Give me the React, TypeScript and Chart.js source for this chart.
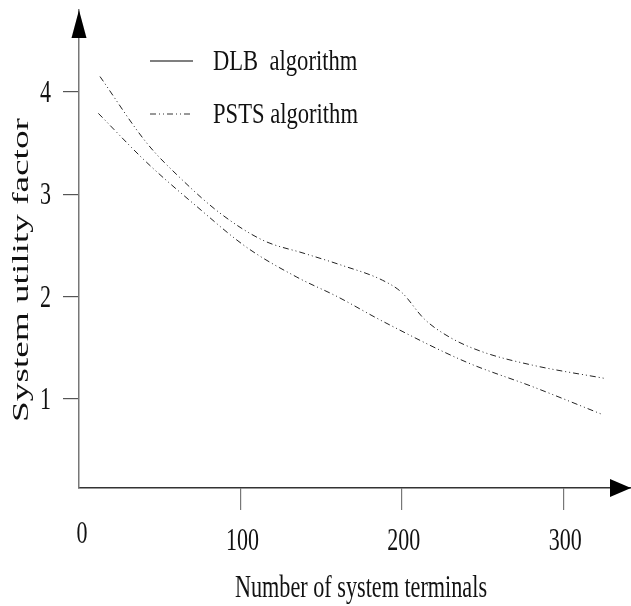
import React, { useEffect, useRef } from "react";
import { Chart, registerables } from "chart.js";

Chart.register(...registerables);

// Series values
const psts_x = [13, 42, 62, 87, 114, 140, 162, 188, 200, 214, 230, 250, 281, 326];
const psts_y = [4.15, 3.5, 3.17, 2.82, 2.55, 2.42, 2.31, 2.16, 2.04, 1.78, 1.6, 1.46, 1.33, 1.2];
const dlb_x = [12, 42, 73, 104, 135, 160, 188, 240, 281, 324];
const dlb_y = [3.79, 3.31, 2.88, 2.48, 2.19, 2.0, 1.76, 1.36, 1.12, 0.85];

const seriesLabels = ["DLB  algorithm", "PSTS algorithm"];
const xTickValues = [100, 200, 300];
const yTickValues = [1, 2, 3, 4];
const xTitle = "Number of system terminals";
const yTitle = "System utility factor";

const FONT = '"Liberation Serif", "Times New Roman", serif';

function stretchText(
  ctx: CanvasRenderingContext2D,
  text: string,
  x: number,
  y: number,
  size: number,
  k: number,
  align: CanvasTextAlign,
  rotate = false
) {
  ctx.save();
  ctx.translate(x, y);
  ctx.scale(1, k);
  if (rotate) ctx.rotate(-Math.PI / 2);
  ctx.font = `${size}px ${FONT}`;
  ctx.fillStyle = "#111";
  ctx.textAlign = align;
  ctx.textBaseline = "alphabetic";
  ctx.fillText(text, 0, 0);
  ctx.restore();
}

const decorPlugin = {
  id: "decor",
  afterDraw(chart: any) {
    const ctx: CanvasRenderingContext2D = chart.ctx;
    const xs = chart.scales.x;
    const ys = chart.scales.y;
    const ca = chart.chartArea;

    // arrows
    ctx.save();
    ctx.fillStyle = "#000";
    ctx.beginPath();
    ctx.moveTo(ca.left, ca.top);
    ctx.lineTo(ca.left - 7.5, ca.top + 28);
    ctx.lineTo(ca.left + 7.5, ca.top + 28);
    ctx.closePath();
    ctx.fill();
    ctx.beginPath();
    ctx.moveTo(ca.right, ca.bottom);
    ctx.lineTo(ca.right - 21, ca.bottom - 9);
    ctx.lineTo(ca.right - 21, ca.bottom + 9);
    ctx.closePath();
    ctx.fill();
    ctx.restore();

    // tick labels
    xTickValues.forEach((v) => {
      stretchText(ctx, String(v), xs.getPixelForValue(v) + 2, ca.bottom + 62, 22, 1.45, "center");
    });
    stretchText(ctx, "0", xs.getPixelForValue(0) + 3, ca.bottom + 55, 22, 1.45, "center");
    yTickValues.forEach((v) => {
      stretchText(ctx, String(v), ca.left - 28, ys.getPixelForValue(v) + 10, 22, 1.45, "right");
    });

    // axis titles
    stretchText(ctx, xTitle, 361, 597, 22.2, 1.45, "center");
    stretchText(ctx, yTitle, 28, 270, 24, 1.55, "center", true);

    // legend
    const legendDash = [[], [6, 3, 1, 3, 1, 3]];
    const legendY = [61, 114];
    seriesLabels.forEach((lab, i) => {
      ctx.save();
      ctx.strokeStyle = i === 0 ? "#555" : "#333";
      ctx.lineWidth = i === 0 ? 1.5 : 1;
      ctx.setLineDash(legendDash[i]);
      ctx.beginPath();
      ctx.moveTo(150, legendY[i]);
      ctx.lineTo(193, legendY[i]);
      ctx.stroke();
      ctx.restore();
      stretchText(ctx, lab, 213, legendY[i] + 9, 22.6, 1.33, "left");
    });
  },
};

export default function App() {
  const ref = useRef<HTMLCanvasElement | null>(null);
  useEffect(() => {
    if (!ref.current) return;
    const dash = [6, 3, 1, 3, 1, 3];
    const chart = new Chart(ref.current, {
      type: "line",
      data: {
        datasets: [
          {
            label: seriesLabels[0],
            data: dlb_x.map((x, i) => ({ x, y: dlb_y[i] })),
            borderColor: "#222",
            borderWidth: 1,
            borderDash: dash,
            pointRadius: 0,
            cubicInterpolationMode: "monotone",
            fill: false,
          },
          {
            label: seriesLabels[1],
            data: psts_x.map((x, i) => ({ x, y: psts_y[i] })),
            borderColor: "#222",
            borderWidth: 1,
            borderDash: dash,
            pointRadius: 0,
            cubicInterpolationMode: "monotone",
            fill: false,
          },
        ],
      },
      options: {
        animation: false,
        responsive: true,
        maintainAspectRatio: false,
        layout: { padding: { top: 10, left: 0, right: 0, bottom: 0 } },
        plugins: { legend: { display: false }, tooltip: { enabled: false } },
        scales: {
          x: {
            type: "linear",
            min: 0,
            max: 342,
            afterBuildTicks: (s: any) => {
              s.ticks = xTickValues.map((v) => ({ value: v }));
            },
            afterFit: (s: any) => {
              s.height = 118;
            },
            ticks: { display: false },
            grid: { drawOnChartArea: false, drawTicks: true, tickLength: 22, color: "#777", lineWidth: 1.2 },
            border: { display: true, color: "#333", width: 1.5 },
          },
          y: {
            type: "linear",
            min: 0.13,
            max: 4.8,
            afterBuildTicks: (s: any) => {
              s.ticks = yTickValues.map((v) => ({ value: v }));
            },
            afterFit: (s: any) => {
              s.width = 79;
            },
            ticks: { display: false },
            grid: { drawOnChartArea: false, drawTicks: true, tickLength: 16, color: "#555", lineWidth: 1.2 },
            border: { display: true, color: "#777", width: 1.5 },
          },
        },
      },
      plugins: [decorPlugin],
    });
    return () => chart.destroy();
  }, []);
  return (
    <div style={{ position: "fixed", left: 0, top: 0, width: 631, height: 606, background: "#fff" }}>
      <canvas ref={ref} />
    </div>
  );
}
